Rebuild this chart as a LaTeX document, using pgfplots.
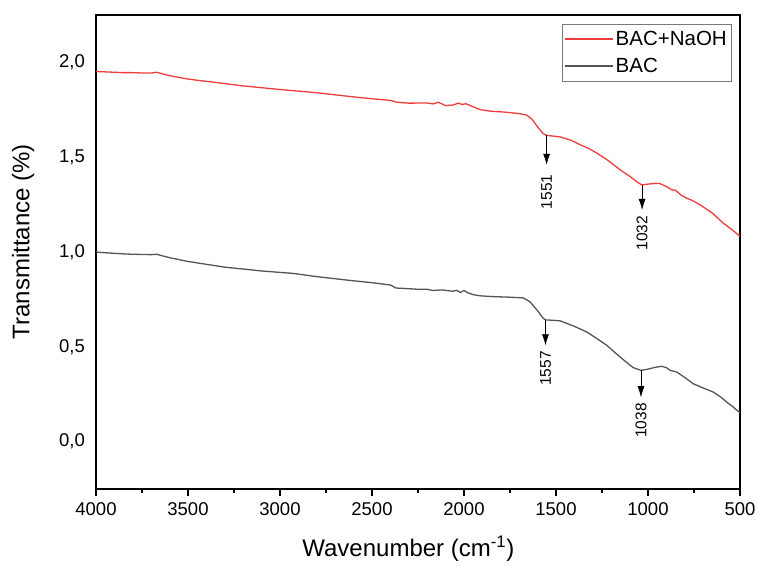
\documentclass[border=0pt]{standalone}
\usepackage{fontspec}
\setmainfont{Liberation Sans}
\usepackage{pgfplots}
\pgfplotsset{compat=1.18}
\usetikzlibrary{arrows.meta}
\definecolor{spred}{RGB}{240,60,60}
\definecolor{spgray}{RGB}{85,85,85}
\definecolor{leggray}{RGB}{120,120,120}
\begin{document}
\begin{tikzpicture}
\useasboundingbox (-96pt,-81pt) rectangle (662pt,489pt);
\begin{axis}[
  at={(0,0)}, anchor=south west,
  scale only axis, width=644pt, height=474pt,
  xmin=500, xmax=4000, x dir=reverse,
  ymin=-0.25, ymax=2.25,
  xtick={500,1000,...,4000},
  minor x tick num=1,
  ytick={0,0.5,1,1.5,2},
  xtick pos=bottom, ytick pos=left,
  tick align=outside,
  major tick length=7pt, minor tick length=4pt,
  ytick style={draw=none},
  tick style={line width=1.1pt, black},
  axis line style={line width=1.2pt},
  /pgf/number format/assume math mode=true,
  xticklabel style={/pgf/number format/1000 sep={}, font=\fontsize{18.5}{22}\selectfont, inner sep=0pt, anchor=north, yshift=-6pt},
  yticklabel style={/pgf/number format/.cd, fixed, fixed zerofill, precision=1, use comma, /tikz/.cd, font=\fontsize{18.5}{22}\selectfont, inner sep=0pt, anchor=east, xshift=-4pt},
  xlabel={Wavenumber (cm\textsuperscript{-1})},
  ylabel={Transmittance (\%)},
  xlabel style={font=\fontsize{24}{28}\selectfont, at={(axis description cs:0.485,-0.125)}, anchor=center},
  ylabel style={font=\fontsize{24}{28}\selectfont, at={(axis description cs:-0.113,0.522)}, anchor=center, rotate=0},
  legend style={at={(0.986,0.981)}, anchor=north east, draw=leggray,
    font=\fontsize{20.5}{24}\selectfont, inner xsep=2pt, inner ysep=5pt, row sep=7pt,
    nodes={inner sep=2pt}, cells={anchor=west}},
  legend image code/.code={\draw[#1] (0pt,0pt) -- (48pt,0pt);},
]
\addlegendimage{draw=spred, line width=1.3pt}
\addlegendentry{BAC+NaOH}
\addlegendimage{draw=spgray, line width=1.3pt}
\addlegendentry{BAC}
\addplot[draw=spred, line width=1.3pt, forget plot] coordinates {
(4000,1.952) (3950,1.950) (3900,1.948) (3850,1.946) (3800,1.946) (3750,1.944) (3700,1.944) (3670,1.948) (3640,1.940)
(3600,1.930) (3500,1.912) (3400,1.900) (3364,1.896) (3200,1.876) (3000,1.857)
(2800,1.840) (2637,1.822) (2500,1.808) (2400,1.800) (2366,1.790) (2300,1.785)
(2200,1.786) (2168,1.781) (2140,1.790) (2100,1.772) (2060,1.775) (2030,1.785)
(2010,1.778) (1990,1.782) (1960,1.770) (1913,1.751) (1850,1.742) (1780,1.738)
(1700,1.730) (1659,1.722) (1630,1.700) (1600,1.660) (1570,1.625) (1551,1.615)
(1520,1.612) (1478,1.607) (1420,1.590) (1369,1.566) (1320,1.545) (1279,1.522)
(1220,1.485) (1152,1.434) (1100,1.400) (1060,1.370) (1034,1.354) (1000,1.358)
(960,1.362) (935,1.361) (900,1.345) (871,1.328) (850,1.326) (820,1.300)
(790,1.284) (760,1.272) (717,1.249) (650,1.205) (591,1.152) (540,1.115)
(509,1.090) (500,1.085)
};
\addplot[draw=spgray, line width=1.3pt, forget plot] coordinates {
(4000,1.000) (3950,0.996) (3900,0.993) (3850,0.990) (3800,0.988) (3750,0.987) (3700,0.986) (3670,0.988) (3640,0.980)
(3600,0.970) (3500,0.950) (3400,0.935) (3300,0.920) (3100,0.900) (2928,0.887)
(2800,0.870) (2637,0.852) (2500,0.838) (2400,0.826) (2370,0.810) (2330,0.808)
(2260,0.804) (2200,0.803) (2168,0.797) (2120,0.800) (2060,0.793) (2040,0.798)
(2020,0.787) (2000,0.797) (1980,0.785) (1950,0.775) (1913,0.769) (1850,0.765)
(1760,0.762) (1678,0.758) (1641,0.737) (1600,0.690) (1569,0.650) (1557,0.642)
(1520,0.640) (1478,0.637) (1400,0.608) (1333,0.578) (1280,0.545) (1224,0.508)
(1180,0.470) (1134,0.432) (1100,0.405) (1080,0.390) (1038,0.376) (1000,0.382)
(960,0.392) (925,0.397) (900,0.390) (880,0.376) (844,0.367) (800,0.338)
(754,0.305) (700,0.283) (645,0.261) (600,0.232) (572,0.208) (540,0.185)
(509,0.159) (500,0.155)
};
\draw[black, line width=0.6pt, -{Latex[length=11pt,width=7pt]}] (axis cs:1551,1.615) -- (axis cs:1551,1.46);
\draw[black, line width=0.6pt, -{Latex[length=11pt,width=7pt]}] (axis cs:1032,1.354) -- (axis cs:1032,1.222);
\draw[black, line width=0.6pt, -{Latex[length=11pt,width=7pt]}] (axis cs:1557,0.640) -- (axis cs:1557,0.508);
\draw[black, line width=0.6pt, -{Latex[length=11pt,width=7pt]}] (axis cs:1038,0.376) -- (axis cs:1038,0.234);
\node[rotate=90, font=\fontsize{15.5}{18}\selectfont] at (axis cs:1551,1.317) {1551};
\node[rotate=90, font=\fontsize{15.5}{18}\selectfont] at (axis cs:1032,1.100) {1032};
\node[rotate=90, font=\fontsize{15.5}{18}\selectfont] at (axis cs:1557,0.385) {1557};
\node[rotate=90, font=\fontsize{15.5}{18}\selectfont] at (axis cs:1038,0.111) {1038};
\end{axis}
\end{tikzpicture}
\end{document}
